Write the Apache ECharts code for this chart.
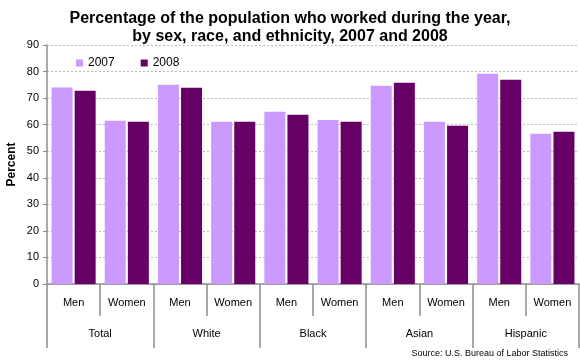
<!DOCTYPE html>
<html><head><meta charset="utf-8">
<script src="https://cdn.jsdelivr.net/npm/echarts@6/dist/echarts.min.js"></script>
<style>html,body{margin:0;padding:0;background:#fff}#c{width:580px;height:360px}</style>
</head><body><div id="c"></div>
<script>
const subCategories = ['Men','Women','Men','Women','Men','Women','Men','Women','Men','Women'];
const groups = ['Total','White','Black','Asian','Hispanic'];
const values2007 = [74.0, 61.5, 75.0, 61.1, 64.9, 61.8, 74.7, 61.1, 79.2, 56.6];
const values2008 = [72.8, 61.1, 73.9, 61.1, 63.7, 61.1, 75.8, 59.6, 76.9, 57.3];
const yTicks = [0,10,20,30,40,50,60,70,80,90];

const font = 'Liberation Sans, Arial, sans-serif';
const chart = echarts.init(document.getElementById('c'), null, {renderer:'canvas'});
chart.setOption({
  animation:false,
  textStyle:{fontFamily:font},
  title:{
    text:'Percentage of the population who worked during the year,\nby sex, race, and ethnicity, 2007 and 2008',
    left:'center', top:5,
    textStyle:{fontFamily:font,fontSize:16,fontWeight:'bold',color:'#000',lineHeight:18}
  },
  legend:{
    left:71, top:52, icon:'rect', itemWidth:7, itemHeight:7, itemGap:26,
    textStyle:{fontFamily:font,fontSize:12,color:'#000'},
    data:['2007','2008']
  },
  grid:{left:47,right:1,top:45,bottom:76,containLabel:false,outerBoundsMode:'none'},
  xAxis:[{
    type:'category', data:subCategories, position:'bottom',
    axisLine:{show:true,lineStyle:{color:'#8c8c8c',width:1.5}},
    axisTick:{show:true,length:32,interval:0,lineStyle:{color:'#8c8c8c',width:1.5}},
    axisLabel:{interval:0,margin:13,fontSize:11,color:'#000',fontFamily:font},
    splitLine:{show:false}
  },{
    type:'category', data:groups, position:'bottom', offset:0,
    axisLine:{show:false},
    axisTick:{show:true,length:64,interval:0,lineStyle:{color:'#8c8c8c',width:1.5}},
    axisLabel:{interval:0,margin:44,fontSize:11,color:'#000',fontFamily:font},
    splitLine:{show:false}
  }],
  yAxis:{
    type:'value', min:yTicks[0], max:yTicks[yTicks.length-1], interval:10,
    name:'Percent', nameLocation:'middle', nameRotate:90, nameGap:29, nameMoveOverlap:false,
    nameTextStyle:{fontFamily:font,fontSize:12,fontWeight:'bold',color:'#000'},
    axisLine:{show:true,lineStyle:{color:'#8c8c8c',width:1.5}},
    axisTick:{show:true,length:4,lineStyle:{color:'#8c8c8c'}},
    axisLabel:{fontSize:11,color:'#000',margin:8,fontFamily:font},
    splitLine:{show:true,lineStyle:{color:'#bbbbbb',type:[2,2],width:1}}
  },
  series:[
    {name:'2007',type:'bar',xAxisIndex:0,data:values2007,barWidth:21,barGap:'10%',itemStyle:{color:'#cc99ff'}},
    {name:'2008',type:'bar',xAxisIndex:0,data:values2008,barWidth:21,barGap:'10%',itemStyle:{color:'#660066'}}
  ],
  graphic:[{
    type:'text', right:12, bottom:2,
    style:{text:'Source: U.S. Bureau of Labor Statistics',fontFamily:font,fontSize:9,fill:'#000'}
  }]
});
</script></body></html>
